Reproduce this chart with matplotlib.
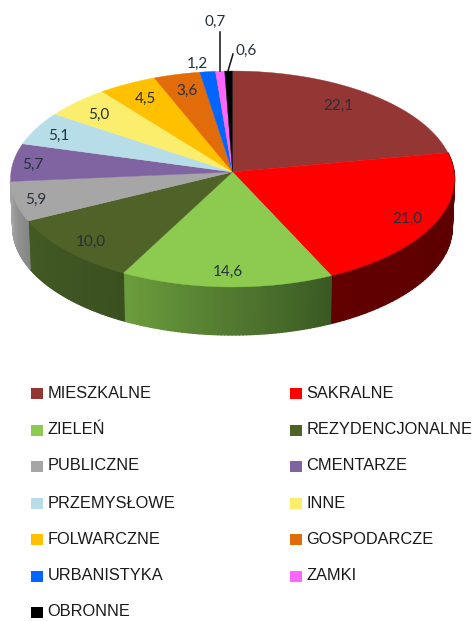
import numpy as np
import matplotlib
matplotlib.use('Agg')
import matplotlib.pyplot as plt
from matplotlib.collections import PolyCollection
from matplotlib.colors import to_rgb

# Chart data
categories = ['MIESZKALNE', 'SAKRALNE', 'ZIELEŃ', 'REZYDENCJONALNE', 'PUBLICZNE', 'CMENTARZE',
              'PRZEMYSŁOWE', 'INNE', 'FOLWARCZNE', 'GOSPODARCZE', 'URBANISTYKA', 'ZAMKI', 'OBRONNE']
values = [22.1, 21.0, 14.6, 10.0, 5.9, 5.7, 5.1, 5.0, 4.5, 3.6, 1.2, 0.7, 0.6]
value_labels = ['22,1', '21,0', '14,6', '10,0', '5,9', '5,7', '5,1', '5,0', '4,5', '3,6', '1,2', '0,7', '0,6']

# Styles
colors = ['#943634', '#ff0000', '#8ccb4f', '#4f6228', '#a6a6a6', '#8064a2', '#b7dee8',
          '#fbee6c', '#ffc000', '#e36c0a', '#0066ff', '#ff66ff', '#000000']
# side wall colour at the right and left end of each front slice
side_right = {1: '#5c0000', 2: '#3a5a24', 3: '#3b5020', 4: '#858585'}
side_left = {1: '#620000', 2: '#6b9c3c', 3: '#435a24', 4: '#a3a3a3'}
label_xy = [(338, 106), (407, 219), (228, 272), (91, 242), (36, 200), (33, 165), (59, 136),
            (99, 115), (145, 99), (187, 91), (197, 64), (215, 22), (246, 51)]

# Pie geometry in pixels
cx, cy = 232.5, 172
rx, ry = 221.5, 107.5
persp = 0.0648
depth = 48


def project(theta):
    # theta clockwise from the top, circle seen in perspective
    u, v = np.sin(theta), np.cos(theta)
    return cx + rx * u / (1 + persp * v), cy - ry * v / (1 + persp * v)


fig = plt.figure(figsize=(4.74, 6.21), dpi=100)
ax = fig.add_axes([0, 0, 1, 1])
ax.set_xlim(0, 474)
ax.set_ylim(621, 0)
ax.axis('off')

edges = np.radians(np.cumsum([0] + values) / sum(values) * 360)

# Side wall first, the top covers what is hidden
for i in side_left:
    t = np.linspace(edges[i], edges[i + 1], 60)
    x, y = project(t)
    x2 = cx + (x - cx) * 0.99
    y2 = y + depth
    c0, c1 = np.array(to_rgb(side_right[i])), np.array(to_rgb(side_left[i]))
    polys, cols = [], []
    for j in range(len(t) - 1):
        polys.append([(x[j], y[j]), (x[j + 1], y[j + 1]), (x2[j + 1], y2[j + 1]), (x2[j], y2[j])])
        f = j / (len(t) - 2)
        cols.append(c0 * (1 - f) + c1 * f)
    ax.add_collection(PolyCollection(polys, facecolors=cols, edgecolors=cols, linewidths=1.0))

for i in range(len(values)):
    t = np.linspace(edges[i], edges[i + 1], 80)
    x, y = project(t)
    ax.fill(np.r_[cx, x], np.r_[cy, y], color=colors[i], lw=0.3)

for txt, (lx, ly) in zip(value_labels, label_xy):
    ax.text(lx, ly, txt, fontsize=11, family='Lato', color='#26303a', ha='center', va='center')

# Leader lines of the two thin slices
ax.plot([220.5, 220.5], [32, 71], color='#111111', lw=1.1)
ax.plot([233, 228], [54, 71], color='#111111', lw=1.1)

# Legend, filled row by row
row_y = [393, 430, 466, 503, 539, 576, 612]
col_x = [31, 290]
for i, name in enumerate(categories):
    px, py = col_x[i % 2], row_y[i // 2]
    ax.add_patch(plt.Rectangle((px, py - 5.5), 12, 11, color=colors[i], lw=0))
    ax.text(px + 16.5, py, name, fontsize=11.8, family='Liberation Sans', color='#1a1a1a',
            ha='left', va='center')

fig.savefig('out.png', dpi=100)
